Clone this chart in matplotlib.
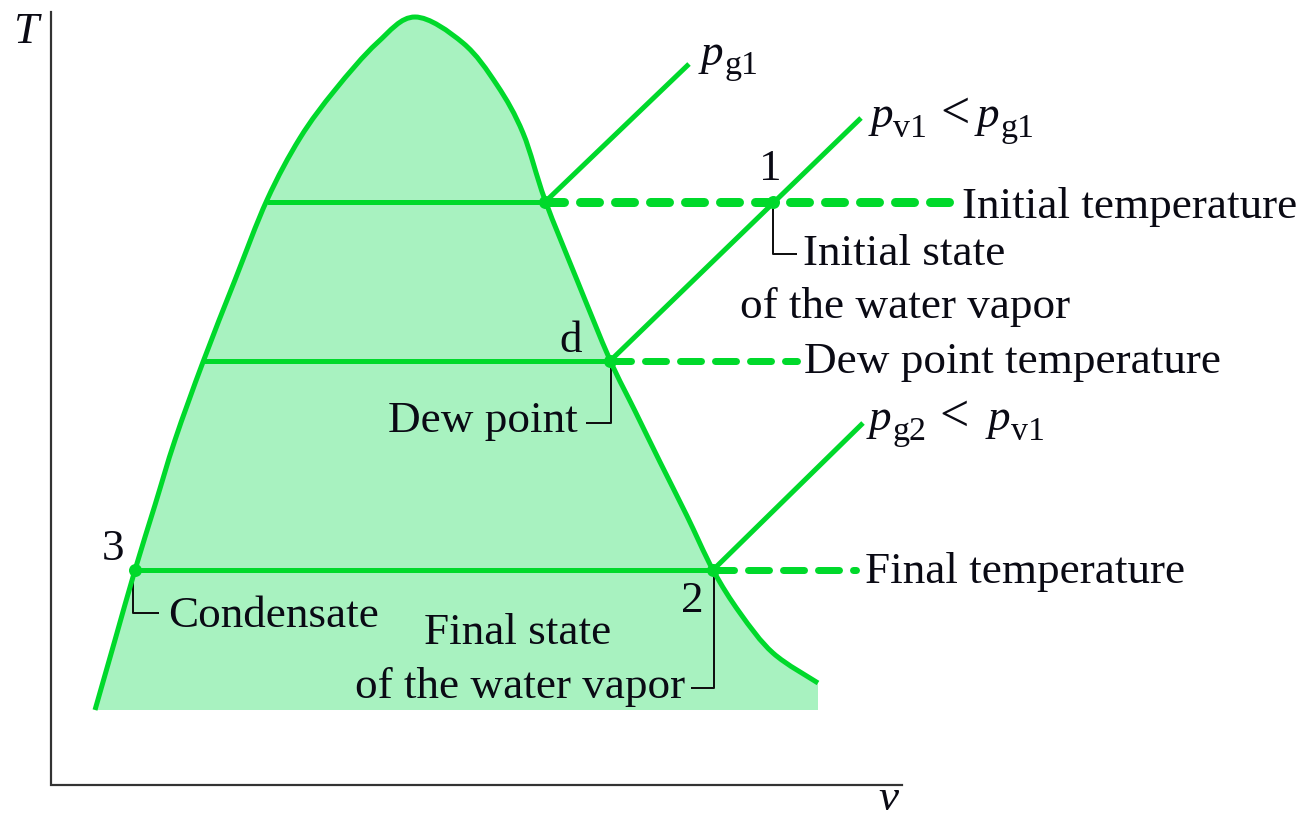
import matplotlib
matplotlib.use('Agg')
import matplotlib.pyplot as plt
import numpy as np
from matplotlib.path import Path
from matplotlib.patches import PathPatch

plt.rcParams['font.family'] = ['Liberation Serif', 'DejaVu Serif']
plt.rcParams['lines.scale_dashes'] = False

W, H = 1307, 817
PX = 72.0 / 100.0  # points per pixel at dpi 100

# ---- data (x to the right, y downward) ----
dome_x = [95, 115, 135, 155, 175, 203, 235, 267, 300, 335, 377, 415,
          463, 497, 523, 545, 577, 610, 635, 660, 687, 713, 740, 773, 818]
dome_y = [710, 640, 570, 505, 440, 362, 280, 200, 138, 90, 43, 17,
          43, 85, 133, 200, 280, 360, 411, 462, 516, 570, 613, 653, 683]
fill_bottom_y = 710

iso_y = [202, 361, 570]
iso_left_x = [267, 203, 135]
iso_right_x = [545, 610, 713]
dash_end_x = [957, 797, 856]
dash_lw_px = [9, 7, 7]

press_x0 = [545, 610, 713]
press_y0 = [202, 361, 570]
press_x1 = [689, 861, 863]
press_y1 = [64, 118, 423]

state_x = [545, 773, 610, 713, 135]
state_y = [202, 202, 361, 570, 570]

leader_x = [[773, 773, 796], [611, 611, 587], [133, 133, 158], [714, 714, 692]]
leader_y = [[205, 254, 254], [365, 423, 423], [574, 613, 613], [574, 688, 688]]

axis_x = [51, 51, 902]
axis_y = [12, 785, 785]

# (text, x, baseline y, ha, size factor, italic)
labels = [
    ('T', 13, 43, 'left', 1.0, True),
    ('v', 878, 810, 'left', 1.0, True),
    # p_g1
    ('p', 701, 65, 'left', 1.0, True),
    ('g1', 725, 74, 'left', 0.75, False),
    # p_v1 < p_g1
    ('p', 871, 127, 'left', 1.0, True),
    ('v1', 893, 137, 'left', 0.75, False),
    ('<', 940, 128, 'left', 1.15, False),
    ('p', 977, 127, 'left', 1.0, True),
    ('g1', 1001, 137, 'left', 0.75, False),
    # p_g2 < p_v1
    ('p', 869, 430, 'left', 1.0, True),
    ('g2', 893, 440, 'left', 0.75, False),
    ('<', 939, 431, 'left', 1.15, False),
    ('p', 988, 430, 'left', 1.0, True),
    ('v1', 1011, 440, 'left', 0.75, False),
    # other labels
    ('1', 770, 180, 'center', 1.0, False),
    ('Initial temperature', 962, 218, 'left', 1.0, False),
    ('Initial state', 803, 265, 'left', 1.0, False),
    ('of the water vapor', 740, 318, 'left', 1.0, False),
    ('d', 571, 352, 'center', 1.0, False),
    ('Dew point temperature', 804, 373, 'left', 1.0, False),
    ('Dew point', 578, 432, 'right', 1.0, False),
    ('3', 113, 560, 'center', 1.0, False),
    ('Final temperature', 865, 583, 'left', 1.0, False),
    ('2', 692, 612, 'center', 1.0, False),
    ('Condensate', 168, 627, 'left', 1.0, False),
    ('Final state', 518, 644, 'center', 1.0, False),
    ('of the water vapor', 685, 698, 'right', 1.0, False),
]

GREEN = '#00D92B'
FILL = '#A8F2C0'
FS = 32.5


def smooth_path(xs, ys):
    """Smooth curve through the read points using cubic Bezier segments."""
    P = np.column_stack([xs, ys]).astype(float)
    n = len(P)
    verts = [P[0]]
    codes = [Path.MOVETO]
    for i in range(n - 1):
        p0 = P[i - 1] if i > 0 else P[i]
        p1 = P[i]
        p2 = P[i + 1]
        p3 = P[i + 2] if i + 2 < n else P[i + 1]
        verts += [p1 + (p2 - p0) / 6.0, p2 - (p3 - p1) / 6.0, p2]
        codes += [Path.CURVE4] * 3
    return verts, codes


fig = plt.figure(figsize=(W / 100, H / 100), dpi=100)
ax = fig.add_axes([0, 0, 1, 1])
ax.set_xlim(0, W)
ax.set_ylim(H, 0)
ax.axis('off')

verts, codes = smooth_path(dome_x, dome_y)

# fill under dome
fverts = verts + [(dome_x[-1], fill_bottom_y), (dome_x[0], fill_bottom_y), (dome_x[0], fill_bottom_y)]
fcodes = codes + [Path.LINETO, Path.LINETO, Path.CLOSEPOLY]
ax.add_patch(PathPatch(Path(fverts, fcodes), facecolor=FILL, edgecolor='none', lw=0, zorder=1))

# dome curve
ax.add_patch(PathPatch(Path(verts, codes), facecolor='none', edgecolor=GREEN,
                       lw=5 * PX, capstyle='butt', joinstyle='round', zorder=3))

# isotherms: solid inside, dashed outside
for y, xl, xr, xe, lw in zip(iso_y, iso_left_x, iso_right_x, dash_end_x, dash_lw_px):
    ax.plot([xl, xr], [y, y], color=GREEN, lw=5 * PX, solid_capstyle='butt', zorder=3)
    on = (28 - lw) * PX
    off = (7 + lw) * PX
    ax.plot([xr, xe], [y, y], color=GREEN, lw=lw * PX, dashes=(on, off),
            dash_capstyle='round', zorder=3)

# constant pressure lines
for x0, y0, x1, y1 in zip(press_x0, press_y0, press_x1, press_y1):
    ax.plot([x0, x1], [y0, y1], color=GREEN, lw=5 * PX, solid_capstyle='butt', zorder=3)

# state points
ax.plot(state_x, state_y, 'o', color=GREEN, ms=13 * PX, mew=0, zorder=4)

# leader lines
for lx, ly in zip(leader_x, leader_y):
    ax.plot(lx, ly, color='#111111', lw=2 * PX, zorder=2.5)

# axes
ax.plot(axis_x, axis_y, color='#333333', lw=2.2 * PX, solid_joinstyle='miter', zorder=2)

for txt, x, y, ha, sf, it in labels:
    ax.text(x, y, txt, fontsize=FS * sf, ha=ha, va='baseline', color='#0a0a14',
            fontstyle='italic' if it else 'normal', zorder=5)

fig.savefig('out.png', dpi=100)
